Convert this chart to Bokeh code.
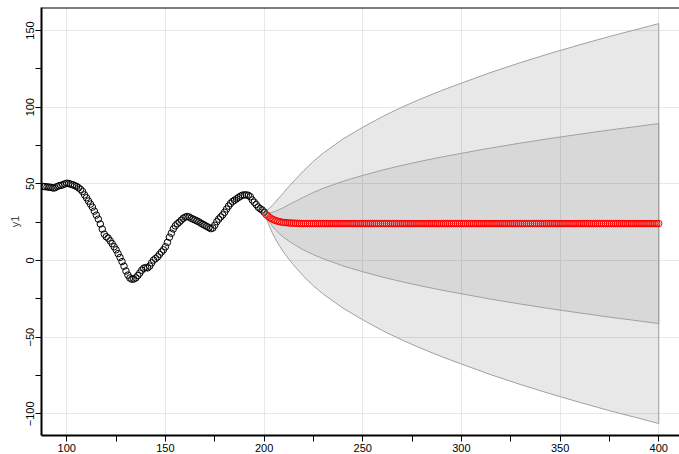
from bokeh.plotting import figure
from bokeh.models import Range1d, Span, CustomJSTickFormatter, FixedTicker
from bokeh.embed import file_html
from bokeh.resources import INLINE

# ---- data ----
obs_x = list(range(88, 201))
obs_y = [48.3, 48.2, 48.0, 47.9, 47.7, 47.3, 47.4, 48.2, 48.7, 49.0,
         49.4, 50.0, 50.4, 50.2, 49.8, 49.4, 48.9, 48.3, 47.4, 46.4,
         45.0, 42.8, 40.9, 38.8, 36.8, 34.8, 32.2, 29.6, 27.0, 23.8,
         20.5, 17.2, 15.5, 14.6, 12.8, 11.0, 9.0, 7.0, 4.5, 2.0,
         -0.7, -3.7, -6.8, -9.5, -11.4, -12.2, -12.0, -11.3, -9.8, -8.2,
         -6.3, -5.0, -4.6, -4.8, -3.6, -1.5, 0.3, 1.3, 2.4, 4.0,
         5.6, 7.0, 9.0, 11.8, 15.2, 17.8, 20.6, 22.6, 24.0, 25.0,
         26.3, 27.5, 28.3, 28.7, 28.4, 27.6, 27.0, 26.4, 25.8, 25.2,
         24.3, 23.6, 22.9, 22.2, 21.5, 20.8, 21.2, 23.0, 25.3, 27.0,
         28.4, 29.8, 31.5, 33.6, 35.5, 37.2, 38.5, 39.3, 40.2, 41.1,
         41.9, 42.6, 42.8, 42.8, 42.5, 41.6, 39.5, 38.0, 36.5, 34.8,
         33.8, 33.0, 31.6]

fc_x = list(range(201, 401))
fc_head = [30.0, 28.9, 27.9, 27.1, 26.5, 26.0, 25.6, 25.3, 25.0, 24.8,
           24.7, 24.6, 24.5, 24.4, 24.35, 24.3, 24.25, 24.2]
fc_level = 24.1
fc_y = fc_head + [fc_level] * (len(fc_x) - len(fc_head))

band_x = [200, 202, 204, 206, 208, 210, 213, 216, 220, 225, 230, 240, 250,
          260, 270, 280, 290, 300, 315, 330, 345, 360, 375, 390, 400]
band_mid = [31.6, 28.9, 27.1, 26.0, 25.3, 24.8, 24.5, 24.3, 24.1, 24.1,
            24.1, 24.1, 24.1, 24.1, 24.1, 24.1, 24.1, 24.1, 24.1, 24.1,
            24.1, 24.1, 24.1, 24.1, 24.1]
inner_hw = [0, 2.2, 4.3, 6.3, 8.1, 9.8, 12.2, 14.4, 17.2, 20.3, 23.0, 27.6,
            31.4, 34.9, 38.0, 40.8, 43.4, 45.8, 49.3, 52.5, 55.5, 58.3, 61.0,
            63.5, 65.2]
outer_hw = [0, 4.4, 8.6, 12.6, 16.2, 19.6, 24.4, 28.8, 34.4, 40.6, 46.0, 55.2,
            62.8, 69.8, 76.0, 81.6, 86.8, 91.6, 98.6, 105.0, 111.0, 116.6,
            122.0, 127.0, 130.4]

x_ticks = [100, 150, 200, 250, 300, 350, 400]
x_minor = [75, 125, 175, 225, 275, 325, 375, 425]
y_ticks = [-100, -50, 0, 50, 100, 150]
y_minor = [-125, -75, -25, 25, 75, 125, 175]

# ---- figure ----
p = figure(width=679, height=454, output_backend="svg", toolbar_location=None,
           x_range=Range1d(87.2, 410.5), y_range=Range1d(-114.1, 165),
           min_border_left=41, min_border_right=0, min_border_top=7,
           min_border_bottom=0)
p.outline_line_color = None
p.background_fill_color = "white"
p.border_fill_color = "white"

def poly(mid, hw):
    up = [m + h for m, h in zip(mid, hw)]
    lo = [m - h for m, h in zip(mid, hw)]
    return band_x + band_x[::-1], up + lo[::-1]

ox, oy = poly(band_mid, outer_hw)
ix, iy = poly(band_mid, inner_hw)
p.patch(ox, oy, fill_color="black", fill_alpha=0.09, line_color="#a0a0a0", line_width=1)
p.patch(ix, iy, fill_color="black", fill_alpha=0.065, line_color="#a0a0a0", line_width=1)

p.scatter(obs_x, obs_y, marker="circle", size=6.5, fill_color=None,
          line_color="black", line_width=1)
p.scatter(fc_x, fc_y, marker="circle", size=6.5, fill_color=None,
          line_color="#ff0000", line_width=1)

p.add_layout(Span(location=165, dimension="width", line_color="black", line_width=2))

fmt = CustomJSTickFormatter(code="return tick < 0 ? '\u2212' + Math.abs(tick) : tick.toString();")

p.xaxis.ticker = FixedTicker(ticks=x_ticks, minor_ticks=x_minor)
p.yaxis.ticker = FixedTicker(ticks=y_ticks, minor_ticks=y_minor)
for ax in (p.xaxis, p.yaxis):
    ax.formatter = fmt
    ax.axis_line_width = 2
    ax.axis_line_color = "black"
    ax.major_tick_line_color = "black"
    ax.minor_tick_line_color = "black"
    ax.major_tick_in = 0
    ax.major_tick_out = 6
    ax.minor_tick_in = 0
    ax.minor_tick_out = 6
    ax.major_label_text_font = "Liberation Sans"
    ax.major_label_text_font_size = "11px"
    ax.major_label_text_color = "black"
    ax.major_label_standoff = 1

p.xaxis.axis_label_standoff = 0
p.xaxis.major_label_standoff = 2
p.yaxis.major_label_orientation = "vertical"
p.yaxis.axis_label = "y1"
p.yaxis.axis_label_text_font = "Liberation Sans"
p.yaxis.axis_label_text_font_size = "11px"
p.yaxis.axis_label_text_font_style = "normal"
p.yaxis.axis_label_standoff = 3

p.grid.grid_line_color = "#e8e8e8"
p.grid.grid_line_width = 1
p.xgrid.ticker = FixedTicker(ticks=x_ticks)
p.ygrid.ticker = FixedTicker(ticks=y_ticks)

open("out.html", "w").write(file_html(p, INLINE))
